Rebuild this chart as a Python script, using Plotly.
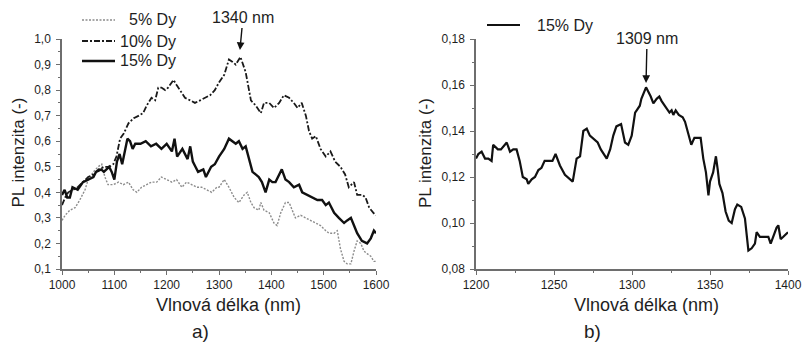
import plotly.graph_objects as go

# ---- panel a): PL spectra for three Dy concentrations ----
nm_5 = [1000, 1006, 1015, 1025, 1034, 1044, 1050, 1060, 1069, 1076,
        1082, 1088, 1098, 1108, 1117, 1127, 1136, 1143, 1152, 1162,
        1171, 1181, 1190, 1200, 1210, 1219, 1229, 1238, 1248, 1258,
        1267, 1277, 1286, 1296, 1300, 1310, 1319, 1329, 1338, 1348,
        1354, 1361, 1367, 1376, 1380, 1386, 1396, 1405, 1411, 1418,
        1427, 1434, 1440, 1446, 1456, 1466, 1475, 1485, 1494, 1504,
        1510, 1520, 1526, 1532, 1539, 1545, 1552, 1558, 1564, 1571,
        1577, 1583, 1590, 1596, 1600]
pl_5 = [0.29, 0.31, 0.33, 0.34, 0.37, 0.41, 0.45, 0.48, 0.50, 0.51,
        0.46, 0.43, 0.43, 0.44, 0.43, 0.44, 0.41, 0.40, 0.42, 0.43,
        0.44, 0.44, 0.46, 0.45, 0.44, 0.45, 0.42, 0.44, 0.43, 0.42,
        0.42, 0.41, 0.40, 0.42, 0.42, 0.45, 0.42, 0.38, 0.36, 0.39,
        0.40, 0.36, 0.34, 0.33, 0.36, 0.33, 0.32, 0.28, 0.27, 0.32,
        0.36, 0.36, 0.33, 0.30, 0.31, 0.30, 0.29, 0.28, 0.27, 0.25,
        0.24, 0.24, 0.25, 0.18, 0.13, 0.12, 0.12, 0.17, 0.21, 0.20,
        0.17, 0.16, 0.15, 0.13, 0.13]

nm_10 = [1000, 1006, 1012, 1020, 1030, 1040, 1050, 1060, 1070, 1080,
         1090, 1098, 1104, 1111, 1118, 1127, 1137, 1147, 1155, 1162,
         1171, 1178, 1184, 1190, 1197, 1203, 1213, 1219, 1225, 1235,
         1245, 1254, 1264, 1273, 1283, 1292, 1300, 1310, 1319, 1326,
         1332, 1341, 1351, 1361, 1370, 1380, 1386, 1396, 1405, 1415,
         1424, 1434, 1443, 1450, 1458, 1466, 1472, 1478, 1485, 1494,
         1504, 1513, 1522, 1532, 1541, 1548, 1558, 1564, 1574, 1580,
         1587, 1595, 1600]
pl_10 = [0.35, 0.38, 0.40, 0.41, 0.42, 0.44, 0.46, 0.47, 0.49, 0.50,
         0.50, 0.51, 0.54, 0.61, 0.63, 0.67, 0.69, 0.70, 0.71, 0.74,
         0.77, 0.76, 0.81, 0.81, 0.80, 0.81, 0.84, 0.82, 0.80, 0.77,
         0.76, 0.75, 0.76, 0.77, 0.78, 0.80, 0.83, 0.86, 0.92, 0.91,
         0.90, 0.93, 0.87, 0.76, 0.74, 0.71, 0.75, 0.75, 0.73, 0.75,
         0.78, 0.77, 0.75, 0.73, 0.75, 0.70, 0.64, 0.61, 0.62, 0.57,
         0.54, 0.56, 0.52, 0.50, 0.47, 0.42, 0.44, 0.39, 0.39, 0.38,
         0.34, 0.32, 0.31]

nm_15 = [1000, 1005, 1010, 1015, 1020, 1030, 1040, 1050, 1060, 1065,
         1075, 1080, 1090, 1095, 1100, 1105, 1110, 1115, 1120, 1125,
         1130, 1135, 1140, 1150, 1160, 1170, 1180, 1190, 1200, 1210,
         1215, 1220, 1230, 1240, 1245, 1250, 1255, 1260, 1270, 1275,
         1285, 1292, 1300, 1310, 1319, 1326, 1332, 1338, 1345, 1351,
         1357, 1364, 1370, 1376, 1382, 1389, 1396, 1402, 1408, 1415,
         1420, 1427, 1434, 1443, 1453, 1459, 1469, 1478, 1488, 1497,
         1504, 1510, 1520, 1529, 1539, 1545, 1552, 1558, 1564, 1573,
         1583, 1590, 1596, 1600]
pl_15 = [0.39, 0.41, 0.38, 0.38, 0.42, 0.41, 0.44, 0.45, 0.46, 0.48,
         0.49, 0.48, 0.50, 0.48, 0.45, 0.52, 0.55, 0.51, 0.56, 0.61,
         0.60, 0.57, 0.59, 0.59, 0.60, 0.58, 0.59, 0.57, 0.59, 0.56,
         0.61, 0.54, 0.57, 0.53, 0.58, 0.52, 0.50, 0.48, 0.49, 0.46,
         0.50, 0.51, 0.54, 0.57, 0.61, 0.60, 0.59, 0.60, 0.57, 0.58,
         0.53, 0.48, 0.47, 0.46, 0.44, 0.40, 0.45, 0.44, 0.44, 0.47,
         0.49, 0.45, 0.44, 0.42, 0.43, 0.40, 0.39, 0.38, 0.37, 0.37,
         0.35, 0.36, 0.32, 0.30, 0.28, 0.29, 0.30, 0.27, 0.24, 0.21,
         0.20, 0.22, 0.25, 0.24]

# ---- panel b): detail of the 15 % Dy spectrum ----
nm_b = [1200, 1201.5, 1203.6, 1205.8, 1207.9, 1210, 1211, 1214, 1216, 1219.7,
        1221.8, 1223.9, 1226, 1228, 1230, 1232.5, 1233.5, 1235.7, 1237.8, 1240,
        1242, 1244, 1246, 1249, 1251, 1253.8, 1257, 1260, 1262, 1264.5,
        1266.7, 1268.8, 1271, 1273, 1276, 1278, 1280, 1282, 1283.8, 1286,
        1288, 1290, 1293, 1295.5, 1297.6, 1299.8, 1302, 1303, 1305, 1306,
        1308, 1309, 1312, 1313.7, 1315.8, 1317.5, 1319, 1321.8, 1324, 1325.4,
        1326.5, 1328, 1330, 1332.5, 1334, 1336, 1338, 1340, 1342, 1344,
        1345.7, 1347.4, 1349, 1350, 1352, 1353.8, 1355, 1356, 1358, 1360,
        1362, 1363.9, 1366, 1367.5, 1370, 1372.4, 1374.6, 1376.7, 1378.8, 1379.9,
        1382, 1385, 1387.4, 1388.9, 1390.6, 1392.7, 1393.8, 1395.3, 1397, 1400]
pl_b = [0.128, 0.130, 0.131, 0.128, 0.128, 0.127, 0.134, 0.132, 0.132, 0.135,
        0.131, 0.132, 0.132, 0.127, 0.120, 0.119, 0.117, 0.119, 0.120, 0.123,
        0.124, 0.127, 0.127, 0.127, 0.130, 0.125, 0.121, 0.119, 0.118, 0.128,
        0.129, 0.140, 0.141, 0.138, 0.136, 0.135, 0.132, 0.130, 0.128, 0.132,
        0.138, 0.142, 0.143, 0.135, 0.134, 0.138, 0.148, 0.149, 0.151, 0.154,
        0.157, 0.159, 0.155, 0.152, 0.154, 0.155, 0.153, 0.150, 0.148, 0.149,
        0.147, 0.149, 0.147, 0.146, 0.144, 0.139, 0.134, 0.137, 0.137, 0.137,
        0.128, 0.122, 0.112, 0.118, 0.122, 0.129, 0.123, 0.117, 0.113, 0.105,
        0.101, 0.100, 0.106, 0.108, 0.107, 0.102, 0.088, 0.089, 0.091, 0.096,
        0.094, 0.094, 0.094, 0.091, 0.094, 0.098, 0.099, 0.093, 0.094, 0.096]

legend_a = ["5% Dy", "10% Dy", "15% Dy"]
legend_b = "15% Dy"
peak_a = 1340
peak_b = 1309
x_title = "Vlnová délka (nm)"
y_title = "PL intenzita (-)"

W, H = 804, 344
FONT = "Liberation Sans, Arial, sans-serif"
AX = "#6e6e6e"
TXT = "#1e1e1e"


def px(x):
    return x / W


def py(y):
    return 1 - y / H


fig = go.Figure()

fig.add_trace(go.Scatter(x=nm_5, y=pl_5, mode="lines", xaxis="x", yaxis="y",
                         line=dict(color="#8c8c8c", width=1.4, dash="2px,1.5px"),
                         showlegend=False))
fig.add_trace(go.Scatter(x=nm_10, y=pl_10, mode="lines", xaxis="x", yaxis="y",
                         line=dict(color="#1a1a1a", width=1.8, dash="6px,2px,2px,2px"),
                         showlegend=False))
fig.add_trace(go.Scatter(x=nm_15, y=pl_15, mode="lines", xaxis="x", yaxis="y",
                         line=dict(color="#111111", width=2.4), showlegend=False))
fig.add_trace(go.Scatter(x=nm_b, y=pl_b, mode="lines", xaxis="x2", yaxis="y2",
                         line=dict(color="#111111", width=2.2), showlegend=False))

axis_common = dict(
    showgrid=False, zeroline=False, showline=True, linecolor=AX, linewidth=1.5,
    ticks="outside", ticklen=4, tickwidth=1.2, tickcolor=AX, mirror=False,
    tickfont=dict(family=FONT, size=12, color=TXT), automargin=False,
)

fig.update_layout(
    width=W, height=H, margin=dict(l=0, r=0, t=0, b=0),
    paper_bgcolor="white", plot_bgcolor="white", separators=",.",
    xaxis=dict(axis_common, domain=[px(62), px(376)], range=[1000, 1600],
               dtick=100, tick0=1000, anchor="y",
               minor=dict(ticks="outside", ticklen=2.5, dtick=50, tickcolor=AX)),
    yaxis=dict(axis_common, domain=[py(269), py(39)], range=[0.1, 1.0],
               dtick=0.1, tick0=0.1, tickformat=".1f", anchor="x",
               ticklabelstandoff=3,
               minor=dict(ticks="outside", ticklen=2.5, dtick=0.05, tickcolor=AX)),
    xaxis2=dict(axis_common, domain=[px(476), px(788)], range=[1200, 1400],
                dtick=50, tick0=1200, anchor="y2",
                minor=dict(ticks="outside", ticklen=2.5, dtick=25, tickcolor=AX)),
    yaxis2=dict(axis_common, domain=[py(269), py(39)], range=[0.08, 0.18],
                dtick=0.02, tick0=0.08, tickformat=".2f", anchor="x2",
                ticklabelstandoff=3,
                minor=dict(ticks="outside", ticklen=2.5, dtick=0.01, tickcolor=AX)),
)

shapes = []
annotations = []

# legend for panel a): line samples with right-aligned labels
legend_rows = [20, 41, 61]
legend_styles = [
    dict(color="#8c8c8c", width=1.4, dash="2px,1.5px"),
    dict(color="#1a1a1a", width=1.8, dash="6px,2px,2px,2px"),
    dict(color="#111111", width=2.4),
]
for row, label, style in zip(legend_rows, legend_a, legend_styles):
    shapes.append(dict(type="line", xref="paper", yref="paper",
                       x0=px(82), x1=px(115), y0=py(row), y1=py(row), line=style))
    annotations.append(dict(text=label, xref="paper", yref="paper",
                            x=px(178), y=py(row), xanchor="right", yanchor="middle",
                            showarrow=False, font=dict(family=FONT, size=16, color=TXT)))

# legend for panel b)
shapes.append(dict(type="line", xref="paper", yref="paper",
                   x0=px(487), x1=px(520), y0=py(25), y1=py(25),
                   line=dict(color="#111111", width=2.2)))
annotations.append(dict(text=legend_b, xref="paper", yref="paper",
                        x=px(535), y=py(25), xanchor="left", yanchor="middle",
                        showarrow=False, font=dict(family=FONT, size=16, color=TXT)))

# peak markers
annotations.append(dict(text=f"{peak_a} nm", xref="x", yref="y", x=peak_a, y=0.957,
                        showarrow=True, arrowhead=2, arrowsize=1.1, arrowwidth=1.4,
                        arrowcolor="#111111", ax=3, ay=-32,
                        font=dict(family=FONT, size=16, color=TXT)))
annotations.append(dict(text=f"{peak_b} nm", xref="x2", yref="y2", x=peak_b, y=0.1609,
                        showarrow=True, arrowhead=2, arrowsize=1.1, arrowwidth=1.4,
                        arrowcolor="#111111", ax=1, ay=-44,
                        font=dict(family=FONT, size=16, color=TXT)))

# axis titles and panel letters
for cx in (228, 646):
    annotations.append(dict(text=x_title, xref="paper", yref="paper",
                            x=px(cx), y=py(305), xanchor="center", yanchor="middle",
                            showarrow=False, font=dict(family=FONT, size=18, color=TXT)))
for cx in (17.5, 425):
    annotations.append(dict(text=y_title, xref="paper", yref="paper",
                            x=px(cx), y=py(153), xanchor="center", yanchor="middle",
                            textangle=-90, showarrow=False,
                            font=dict(family=FONT, size=17, color=TXT)))
for cx, letter in ((200, "a)"), (592, "b)")):
    annotations.append(dict(text=letter, xref="paper", yref="paper",
                            x=px(cx), y=py(331), xanchor="center", yanchor="middle",
                            showarrow=False, font=dict(family=FONT, size=19, color=TXT)))

fig.update_layout(shapes=shapes, annotations=annotations)

fig.write_html("out.html")
